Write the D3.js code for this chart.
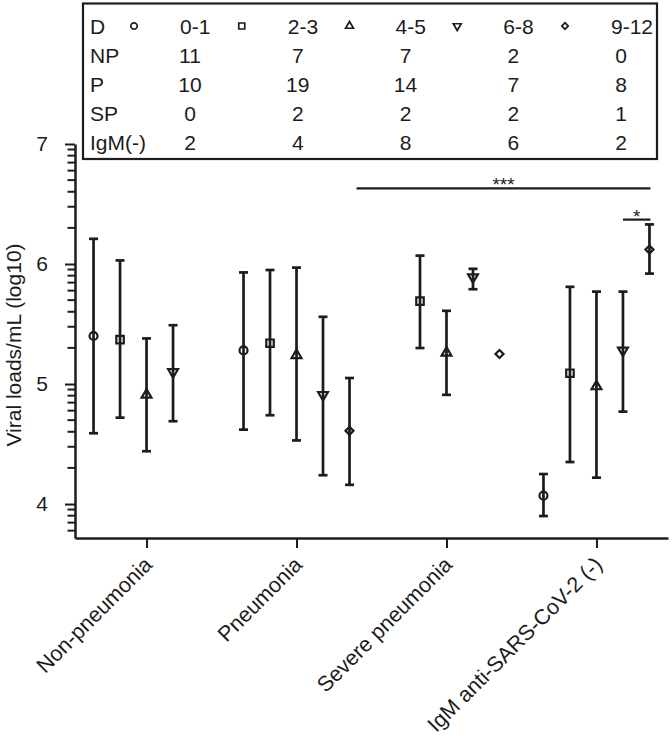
<!DOCTYPE html>
<html>
<head>
<meta charset="utf-8">
<script src="https://cdn.jsdelivr.net/npm/d3@7/dist/d3.min.js"></script>
<style>
  html, body { margin: 0; padding: 0; background: #fff; }
  svg { display: block; font-family: "Liberation Sans", Arial, Helvetica, sans-serif; }
</style>
</head>
<body>
<svg id="chart" width="672" height="743"></svg>
<script>
// ---------------- data ----------------
const categories = ["Non-pneumonia", "Pneumonia", "Severe pneumonia", "IgM anti-SARS-CoV-2 (-)"];
const ageGroups = ["0-1", "2-3", "4-5", "6-8", "9-12"];
const symbolsByGroup = ["circle", "square", "triangle", "triangleDown", "diamond"];

// mean viral load (log10) per category x age group (null = no data)
const means = [
  [5.40, 5.37, 4.91, 5.10, null],
  [5.28, 5.34, 5.24, 4.91, 4.61],
  [null, 5.69, 5.26, 5.89, 5.25],
  [4.07, 5.09, 4.98, 5.28, 6.12]
];
const upper = [
  [6.21, 6.03, 5.38, 5.49, null],
  [5.93, 5.95, 5.97, 5.56, 5.05],
  [null, 6.07, 5.61, 5.96, null],
  [4.25, 5.81, 5.77, 5.77, 6.33]
];
const lower = [
  [4.59, 4.72, 4.44, 4.69, null],
  [4.62, 4.74, 4.53, 4.24, 4.16],
  [null, 5.30, 4.91, 5.79, null],
  [3.90, 4.35, 4.22, 4.77, 5.92]
];

// table of sample counts
const tableHeader = "D";
const rowLabels = ["NP", "P", "SP", "IgM(-)"];
const counts = [
  [11, 7, 7, 2, 0],
  [10, 19, 14, 7, 8],
  [0, 2, 2, 2, 1],
  [2, 4, 8, 6, 2]
];

// y ticks
const yTickLabels = [4, 5, 6, 7];
const yMin = 3.717, yMax = 7;

// significance brackets
const brackets = [
  { from: ["Pneumonia", "9-12"], to: ["IgM anti-SARS-CoV-2 (-)", "9-12"], level: 6.63, label: "***" },
  { from: ["IgM anti-SARS-CoV-2 (-)", "6-8"], to: ["IgM anti-SARS-CoV-2 (-)", "9-12"], level: 6.37, label: "*" }
];

// ---------------- drawing ----------------
const ink = "#1c1c1c";
const svg = d3.select("#chart");

const x = d3.scalePoint().domain(categories).range([75, 668]).padding(0.477);
const dodge = d3.scalePoint().domain(ageGroups).range([-53, 53]);
const y = d3.scaleLinear().domain([yMin, yMax]).range([538, 144]);

// minor log ticks
const minorTicks = [];
for (let n = 3; n <= 6; n++) {
  for (let k = 2; k <= 9; k++) {
    const v = n + Math.log10(k);
    if (v >= yMin && v <= yMax) minorTicks.push(v);
  }
}

// y axis
const yAxisG = svg.append("g").attr("transform", "translate(75,0)")
  .call(d3.axisLeft(y).tickValues(yTickLabels).tickSize(10).tickSizeOuter(0).tickPadding(17).tickFormat(d3.format("d")));
yAxisG.select(".domain").attr("stroke", ink).attr("stroke-width", 2.5);
yAxisG.selectAll(".tick line").attr("stroke", ink).attr("stroke-width", 2);
yAxisG.selectAll(".tick text").attr("fill", ink).attr("font-size", 21).attr("font-family", null);

const minorG = svg.append("g").attr("class", "minor-ticks");
minorTicks.forEach(v => {
  minorG.append("line")
    .attr("x1", 67.5).attr("x2", 75)
    .attr("y1", y(v)).attr("y2", y(v))
    .style("stroke", ink).style("stroke-width", "2px");
});

// x axis
const xAxisG = svg.append("g").attr("transform", "translate(0,538)")
  .call(d3.axisBottom(x).tickSize(10).tickSizeOuter(0).tickFormat(() => ""));
xAxisG.select(".domain").attr("stroke", ink).attr("stroke-width", 2.5);
xAxisG.selectAll(".tick line").attr("stroke", ink).attr("stroke-width", 2);

svg.append("g").selectAll("text").data(categories).join("text")
  .attr("transform", d => `translate(${x(d) + 7},${566}) rotate(-45)`)
  .attr("text-anchor", "end")
  .attr("font-size", 21.5)
  .attr("fill", ink)
  .text(d => d);

// y label
svg.append("text")
  .attr("transform", "translate(20.5,345) rotate(-90)")
  .attr("text-anchor", "middle")
  .attr("font-size", 21)
  .attr("fill", ink)
  .text("Viral loads/mL (log10)");

// symbol helper
function symbolPath(kind, scale) {
  const s = scale || 1;
  switch (kind) {
    case "circle": return d3.symbol(d3.symbolCircle, 50 * s * s)();
    case "square": return d3.symbol(d3.symbolSquare, 56 * s * s)();
    case "triangle": return d3.symbol(d3.symbolTriangle, 42 * s * s)();
    case "triangleDown": return d3.symbol(d3.symbolTriangle, 42 * s * s)();
    case "diamond": return d3.symbol(d3.symbolSquare, 32 * s * s)();
  }
}
function symbolRotate(kind) {
  if (kind === "triangleDown") return 180;
  if (kind === "diamond") return 45;
  return 0;
}

// points
const points = [];
categories.forEach((c, ci) => {
  ageGroups.forEach((g, gi) => {
    if (means[ci][gi] != null) {
      points.push({ cat: c, group: g, gi, mean: means[ci][gi], lo: lower[ci][gi], hi: upper[ci][gi] });
    }
  });
});

const capHalf = 4.5;
const bars = svg.append("g").selectAll("g").data(points.filter(d => d.lo != null)).join("g")
  .attr("stroke", ink).attr("stroke-width", 2.7).attr("fill", "none");
bars.append("line")
  .attr("x1", d => x(d.cat) + dodge(d.group)).attr("x2", d => x(d.cat) + dodge(d.group))
  .attr("y1", d => y(d.lo)).attr("y2", d => y(d.hi));
bars.append("line")
  .attr("x1", d => x(d.cat) + dodge(d.group) - capHalf).attr("x2", d => x(d.cat) + dodge(d.group) + capHalf)
  .attr("y1", d => y(d.hi)).attr("y2", d => y(d.hi));
bars.append("line")
  .attr("x1", d => x(d.cat) + dodge(d.group) - capHalf).attr("x2", d => x(d.cat) + dodge(d.group) + capHalf)
  .attr("y1", d => y(d.lo)).attr("y2", d => y(d.lo));

svg.append("g").selectAll("path").data(points).join("path")
  .attr("d", d => symbolPath(symbolsByGroup[d.gi]))
  .attr("transform", d => `translate(${x(d.cat) + dodge(d.group)},${y(d.mean)}) rotate(${symbolRotate(symbolsByGroup[d.gi])})`)
  .attr("fill", "none").attr("stroke", ink).attr("stroke-width", 2.2);

// brackets
brackets.forEach(b => {
  const x1 = x(b.from[0]) + dodge(b.from[1]) + (b.label === "***" ? 7 : 0);
  const x2 = x(b.to[0]) + dodge(b.to[1]) + 1;
  svg.append("line").attr("x1", x1).attr("x2", x2).attr("y1", y(b.level)).attr("y2", y(b.level))
    .attr("stroke", ink).attr("stroke-width", 2.2);
  svg.append("text").attr("x", (x1 + x2) / 2).attr("y", y(b.level) + 3)
    .attr("text-anchor", "middle").attr("font-size", 19).attr("fill", ink).text(b.label);
});

// table
const tbl = svg.append("g");
tbl.append("rect").attr("x", 83).attr("y", 3.5).attr("width", 574).attr("height", 155.5)
  .attr("fill", "#fff").attr("stroke", ink).attr("stroke-width", 2.2);
const colSym = d3.scalePoint().domain(ageGroups).range([134, 565]);
const rowY = d3.scalePoint().domain([tableHeader, ...rowLabels]).range([34, 150]);

tbl.append("text").attr("x", 90).attr("y", rowY(tableHeader)).attr("font-size", 21).attr("fill", ink).text(tableHeader);
ageGroups.forEach((g, gi) => {
  tbl.append("path").attr("d", symbolPath(symbolsByGroup[gi], 0.8))
    .attr("transform", `translate(${colSym(g)},${rowY(tableHeader) - 8}) rotate(${symbolRotate(symbolsByGroup[gi])})`)
    .attr("fill", "none").attr("stroke", ink).attr("stroke-width", 1.7);
  tbl.append("text").attr("x", colSym(g) + 46).attr("y", rowY(tableHeader))
    .attr("font-size", 21).attr("fill", ink).text(g);
});
rowLabels.forEach((r, ri) => {
  tbl.append("text").attr("x", 90).attr("y", rowY(r)).attr("font-size", 21).attr("fill", ink).text(r);
  ageGroups.forEach((g, gi) => {
    tbl.append("text").attr("x", colSym(g) + 56).attr("y", rowY(r))
      .attr("text-anchor", "middle").attr("font-size", 21).attr("fill", ink).text(counts[ri][gi]);
  });
});
</script>
</body>
</html>
